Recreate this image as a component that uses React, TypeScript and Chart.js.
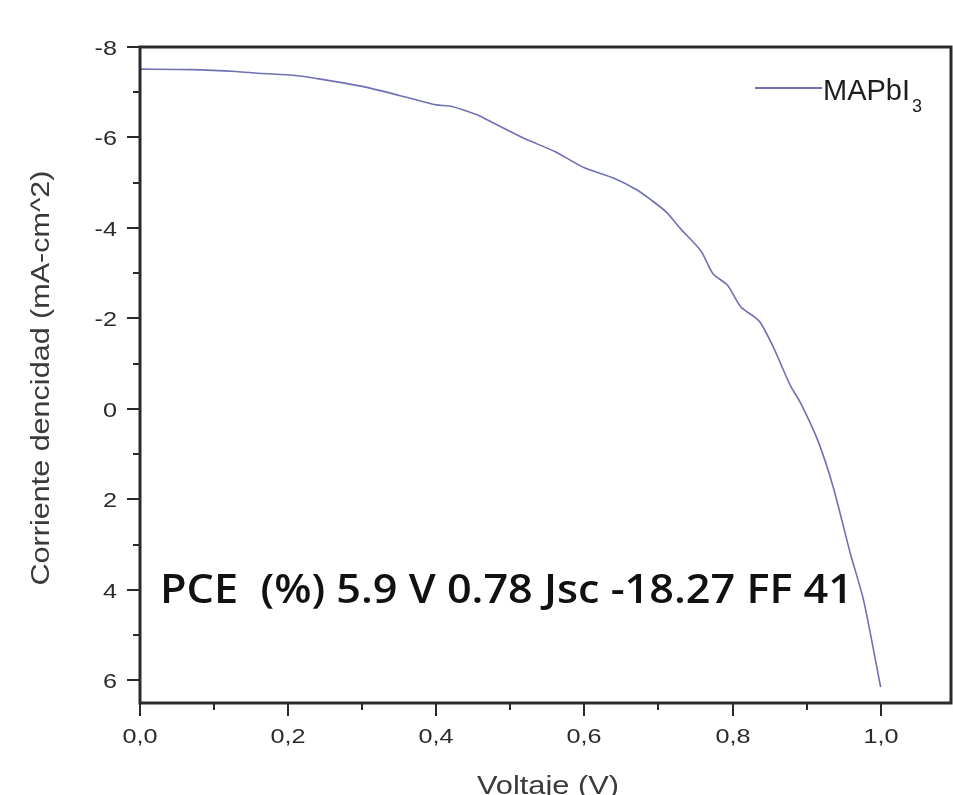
import React, { useEffect, useRef } from "react";
import { Chart, registerables } from "chart.js";

Chart.register(...registerables);

const voltage = [0.0, 0.07, 0.13, 0.16, 0.21, 0.24, 0.3, 0.35, 0.38, 0.4, 0.42, 0.455, 0.47, 0.52, 0.56, 0.6, 0.64, 0.67, 0.69, 0.71, 0.73, 0.757, 0.774, 0.793, 0.811, 0.829, 0.838, 0.855, 0.878, 0.892, 0.915, 0.936, 0.959, 0.977, 1.0];
const current = [-7.51, -7.5, -7.46, -7.42, -7.37, -7.3, -7.13, -6.93, -6.8, -6.72, -6.69, -6.5, -6.38, -5.97, -5.69, -5.33, -5.1, -4.85, -4.62, -4.36, -3.98, -3.5, -2.98, -2.74, -2.26, -2.04, -1.9, -1.37, -0.52, -0.13, 0.69, 1.73, 3.19, 4.23, 6.15];
const xTicks = [0, 0.1, 0.2, 0.3, 0.4, 0.5, 0.6, 0.7, 0.8, 0.9, 1.0];
const yTicks = [-8, -7, -6, -5, -4, -3, -2, -1, 0, 1, 2, 3, 4, 5, 6];
const seriesName = "MAPbI";
const seriesSub = "3";
const xTitle = "Voltaje (V)";
const yTitle = "Corriente dencidad (mA-cm^2)";
const note = "PCE  (%) 5.9 V 0.78 Jsc -18.27 FF 41";

const LINE = "#7070b4";
const AXIS = "#2a2a2a";
const SANS = "'Liberation Sans', Arial, sans-serif";
const STRETCH = 1.2;

function isMajorX(v: number) {
  return Math.round(v * 10) % 2 === 0;
}
function isMajorY(v: number) {
  return Math.round(v) % 2 === 0;
}
function fmtX(v: number) {
  return v.toFixed(1).replace(".", ",");
}

function stretchedText(ctx: CanvasRenderingContext2D, text: string, x: number, y: number, width: number, align: "left" | "center") {
  const w = ctx.measureText(text).width;
  const s = width / w;
  ctx.save();
  ctx.translate(x, y);
  ctx.scale(s, 1);
  ctx.textAlign = align;
  ctx.fillText(text, 0, 0);
  ctx.restore();
}

function scaledText(ctx: CanvasRenderingContext2D, text: string, x: number, y: number, sx: number, align: CanvasTextAlign) {
  ctx.save();
  ctx.translate(x, y);
  ctx.scale(sx, 1);
  ctx.textAlign = align;
  ctx.fillText(text, 0, 0);
  ctx.restore();
}

const decor = {
  id: "decor",
  afterDraw(chart: any) {
    const { ctx, chartArea } = chart;
    const xs = chart.scales.x;
    const ys = chart.scales.y;
    ctx.save();
    ctx.strokeStyle = AXIS;
    ctx.lineWidth = 3;
    ctx.strokeRect(chartArea.left, chartArea.top, chartArea.right - chartArea.left, chartArea.bottom - chartArea.top);
    ctx.lineWidth = 2;
    ctx.fillStyle = "#2a2a2a";
    ctx.font = `21px ${SANS}`;
    ctx.textBaseline = "alphabetic";
    xTicks.forEach((v) => {
      const major = isMajorX(v);
      const px = Math.round(xs.getPixelForValue(v));
      ctx.beginPath();
      ctx.moveTo(px, chartArea.bottom);
      ctx.lineTo(px, chartArea.bottom + (major ? 13 : 7));
      ctx.stroke();
      if (major) scaledText(ctx, fmtX(v), px, 743, STRETCH, "center");
    });
    yTicks.forEach((v) => {
      const major = isMajorY(v);
      const py = Math.round(ys.getPixelForValue(v));
      ctx.beginPath();
      ctx.moveTo(chartArea.left, py);
      ctx.lineTo(chartArea.left - (major ? 13 : 7), py);
      ctx.stroke();
      if (major) scaledText(ctx, String(v), 117, py + 7.5, STRETCH, "right");
    });
    ctx.strokeStyle = LINE;
    ctx.lineWidth = 2;
    ctx.beginPath();
    ctx.moveTo(755, 88);
    ctx.lineTo(822, 88);
    ctx.stroke();
    ctx.fillStyle = "#1e1e1e";
    ctx.textAlign = "left";
    ctx.font = `29px ${SANS}`;
    ctx.fillText(seriesName, 823, 100);
    const nw = ctx.measureText(seriesName).width;
    ctx.font = `18px ${SANS}`;
    ctx.fillText(seriesSub, 823 + nw + 2, 112);
    ctx.fillStyle = "#111";
    ctx.font = `600 39px 'Open Sans', 'Noto Sans', sans-serif`;
    stretchedText(ctx, note, 160, 603, 693, "left");
    ctx.fillStyle = "#3a3a3a";
    ctx.font = `25px ${SANS}`;
    stretchedText(ctx, xTitle, 548, 794, 142, "center");
    ctx.save();
    ctx.translate(49, 378);
    ctx.rotate(-Math.PI / 2);
    stretchedText(ctx, yTitle, 0, 0, 415, "center");
    ctx.restore();
    ctx.restore();
  },
};

export default function App() {
  const ref = useRef<HTMLCanvasElement>(null);
  useEffect(() => {
    document.body.style.margin = "0";
    const points = voltage.map((v, i) => ({ x: v, y: current[i] }));
    const chart = new Chart(ref.current!, {
      type: "line",
      data: {
        datasets: [
          {
            label: seriesName + seriesSub,
            data: points,
            borderColor: LINE,
            borderWidth: 1.6,
            pointRadius: 0,
            tension: 0.25,
            fill: false,
          },
        ],
      },
      options: {
        animation: false,
        responsive: false,
        layout: { padding: { top: 47, right: 2, left: 0, bottom: 0 } },
        plugins: { legend: { display: false }, tooltip: { enabled: false } },
        scales: {
          x: {
            type: "linear",
            min: 0,
            max: 1.095,
            afterBuildTicks: (s: any) => {
              s.ticks = xTicks.map((v) => ({ value: v }));
            },
            afterFit: (s: any) => {
              s.height = 92;
            },
            ticks: { display: false },
            grid: { display: false },
            border: { display: false },
          },
          y: {
            type: "linear",
            min: -8,
            max: 6.5,
            reverse: true,
            afterBuildTicks: (s: any) => {
              s.ticks = yTicks.map((v) => ({ value: v }));
            },
            afterFit: (s: any) => {
              s.width = 140;
            },
            ticks: { display: false },
            grid: { display: false },
            border: { display: false },
          },
        },
      },
      plugins: [decor],
    });
    return () => chart.destroy();
  }, []);
  return (
    <div style={{ position: "absolute", left: 0, top: 0, width: 953, height: 795, background: "#fff" }}>
      <canvas ref={ref} width={953} height={795} />
    </div>
  );
}
